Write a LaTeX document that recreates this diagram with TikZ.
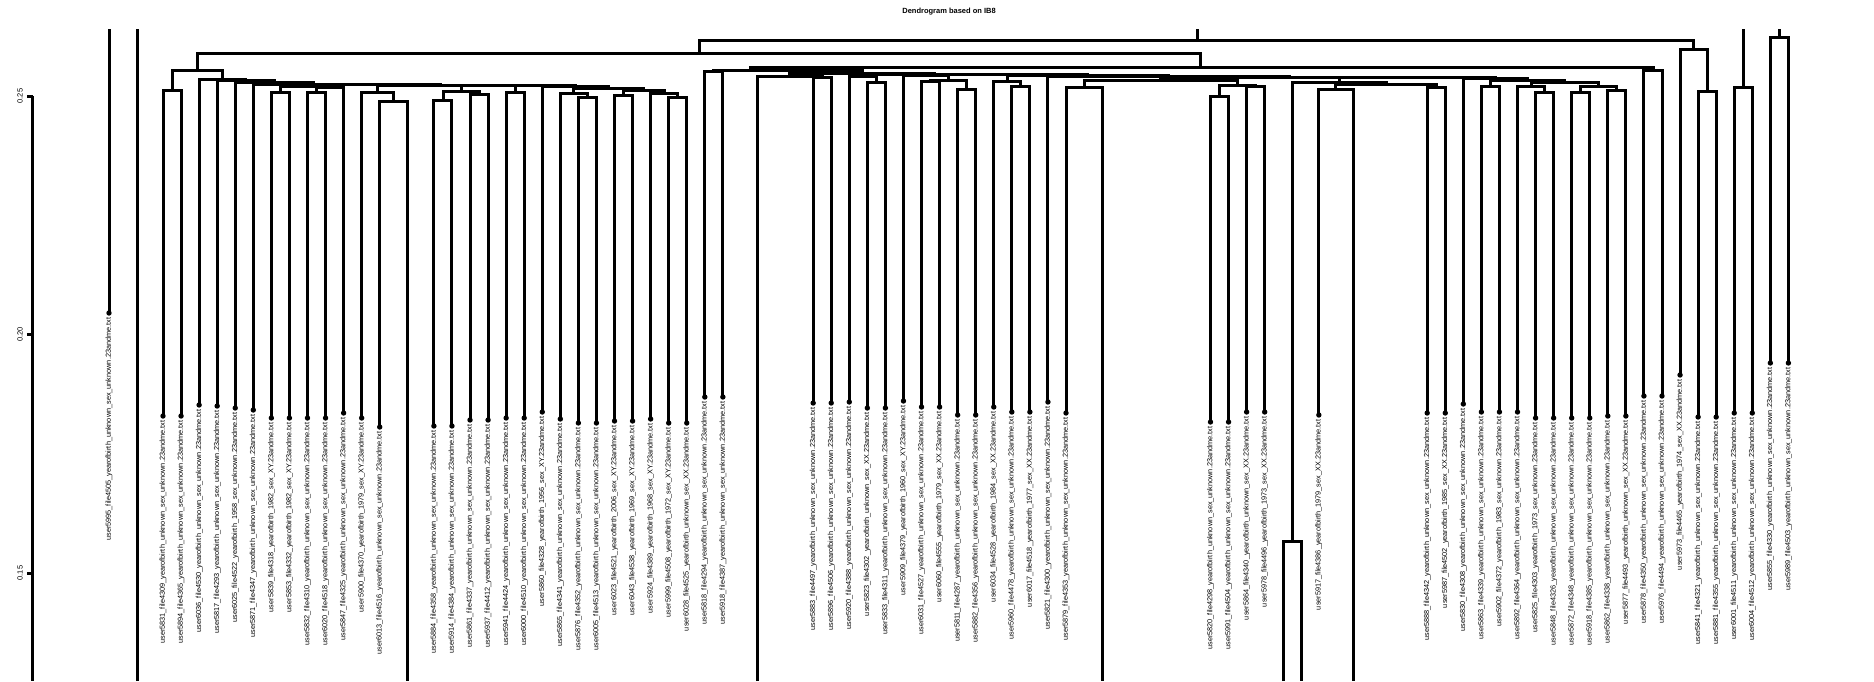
\documentclass[tikz,border=0pt]{standalone}
\usepackage{fontspec}
\setmainfont{Liberation Sans}
\usepackage{tikz}

% one bracket of the tree: left child, right child, new name, x, height
\newcommand{\merge}[5]{%
  \coordinate (#3) at (#4,-#5);
  \draw[branch] (#1) |- (#3) -| (#2);}

\begin{document}
\begin{tikzpicture}[x=1pt, y=1pt,
    branch/.style={draw=black, line width=3pt},
    axisline/.style={draw=black, line width=3pt},
    leafdot/.style={fill=black},
    leaflab/.style={rotate=90, anchor=east, inner sep=0pt, font=\fontsize{7.3}{8}\selectfont},
    ticklab/.style={rotate=90, inner sep=0pt, font=\fontsize{7.5}{8}\selectfont},
    titlelab/.style={inner sep=0pt, font=\bfseries\fontsize{7.5}{8}\selectfont}]

    \useasboundingbox (0,0) rectangle (1874,-681);

    \node[titlelab] (title) at (949,-12) {Dendrogram based on IB8};

    % axis
    \draw[axisline] (32.5,-96) -- (32.5,-681);
    \foreach \v/\yy/\n in {0.25/96/1, 0.20/334.5/2, 0.15/573/3} {
        \draw[axisline] (27,-\yy) -- (32.5,-\yy);
        \node[ticklab] (tick\n) at (20,-\yy) {\v};
    }

    % leaves
    \foreach \k/\dy/\name in {
        0/416/user5831\_file4309\_yearofbirth\_unknown\_sex\_unknown.23andme.txt,
        1/416/user5894\_file4365\_yearofbirth\_unknown\_sex\_unknown.23andme.txt,
        2/405/user6036\_file4530\_yearofbirth\_unknown\_sex\_unknown.23andme.txt,
        3/406/user5817\_file4293\_yearofbirth\_unknown\_sex\_unknown.23andme.txt,
        4/408/user6025\_file4522\_yearofbirth\_1958\_sex\_unknown.23andme.txt,
        5/410/user5871\_file4347\_yearofbirth\_unknown\_sex\_unknown.23andme.txt,
        6/418/user5839\_file4318\_yearofbirth\_1982\_sex\_XY.23andme.txt,
        7/418/user5853\_file4332\_yearofbirth\_1982\_sex\_XY.23andme.txt,
        8/418/user5832\_file4310\_yearofbirth\_unknown\_sex\_unknown.23andme.txt,
        9/418/user6020\_file4518\_yearofbirth\_unknown\_sex\_unknown.23andme.txt,
        10/413/user5847\_file4325\_yearofbirth\_unknown\_sex\_unknown.23andme.txt,
        11/418/user5900\_file4370\_yearofbirth\_1979\_sex\_XY.23andme.txt,
        12/427/user6013\_file4516\_yearofbirth\_unknown\_sex\_unknown.23andme.txt,
        15/426/user5884\_file4358\_yearofbirth\_unknown\_sex\_unknown.23andme.txt,
        16/426/user5914\_file4384\_yearofbirth\_unknown\_sex\_unknown.23andme.txt,
        17/420/user5861\_file4337\_yearofbirth\_unknown\_sex\_unknown.23andme.txt,
        18/420/user5937\_file4412\_yearofbirth\_unknown\_sex\_unknown.23andme.txt,
        19/418/user5941\_file4424\_yearofbirth\_unknown\_sex\_unknown.23andme.txt,
        20/418/user6000\_file4510\_yearofbirth\_unknown\_sex\_unknown.23andme.txt,
        21/412/user5860\_file4328\_yearofbirth\_1956\_sex\_XY.23andme.txt,
        22/419/user5865\_file4341\_yearofbirth\_unknown\_sex\_unknown.23andme.txt,
        23/423/user5876\_file4352\_yearofbirth\_unknown\_sex\_unknown.23andme.txt,
        24/423/user6005\_file4513\_yearofbirth\_unknown\_sex\_unknown.23andme.txt,
        25/421/user6023\_file4521\_yearofbirth\_2006\_sex\_XY.23andme.txt,
        26/421/user6043\_file4538\_yearofbirth\_1969\_sex\_XY.23andme.txt,
        27/419/user5924\_file4389\_yearofbirth\_1968\_sex\_XY.23andme.txt,
        28/423/user5999\_file4508\_yearofbirth\_1972\_sex\_XY.23andme.txt,
        29/423/user6028\_file4525\_yearofbirth\_unknown\_sex\_XX.23andme.txt,
        30/397/user5818\_file4294\_yearofbirth\_unknown\_sex\_unknown.23andme.txt,
        31/397/user5918\_file4387\_yearofbirth\_unknown\_sex\_unknown.23andme.txt,
        36/403/user5883\_file4497\_yearofbirth\_unknown\_sex\_unknown.23andme.txt,
        37/403/user5896\_file4506\_yearofbirth\_unknown\_sex\_unknown.23andme.txt,
        38/402/user5920\_file4388\_yearofbirth\_unknown\_sex\_unknown.23andme.txt,
        39/408/user5823\_file4302\_yearofbirth\_unknown\_sex\_XX.23andme.txt,
        40/408/user5833\_file4311\_yearofbirth\_unknown\_sex\_unknown.23andme.txt,
        41/401/user5909\_file4379\_yearofbirth\_1960\_sex\_XY.23andme.txt,
        42/407/user6031\_file4527\_yearofbirth\_unknown\_sex\_unknown.23andme.txt,
        43/407/user6060\_file4555\_yearofbirth\_1979\_sex\_XX.23andme.txt,
        44/415/user5811\_file4287\_yearofbirth\_unknown\_sex\_unknown.23andme.txt,
        45/415/user5882\_file4356\_yearofbirth\_unknown\_sex\_unknown.23andme.txt,
        46/407/user6034\_file4528\_yearofbirth\_1984\_sex\_XX.23andme.txt,
        47/412/user5960\_file4478\_yearofbirth\_unknown\_sex\_unknown.23andme.txt,
        48/412/user6017\_file4518\_yearofbirth\_1977\_sex\_XX.23andme.txt,
        49/402/user5821\_file4300\_yearofbirth\_unknown\_sex\_unknown.23andme.txt,
        50/413/user5879\_file4353\_yearofbirth\_unknown\_sex\_unknown.23andme.txt,
        58/422/user5820\_file4298\_yearofbirth\_unknown\_sex\_unknown.23andme.txt,
        59/422/user5991\_file4504\_yearofbirth\_unknown\_sex\_unknown.23andme.txt,
        60/412/user5864\_file4340\_yearofbirth\_unknown\_sex\_XX.23andme.txt,
        61/412/user5978\_file4496\_yearofbirth\_1973\_sex\_XX.23andme.txt,
        64/415/user5917\_file4386\_yearofbirth\_1979\_sex\_XX.23andme.txt,
        70/413/user5888\_file4342\_yearofbirth\_unknown\_sex\_unknown.23andme.txt,
        71/413/user5987\_file4502\_yearofbirth\_1985\_sex\_XX.23andme.txt,
        72/404/user5830\_file4308\_yearofbirth\_unknown\_sex\_unknown.23andme.txt,
        73/412/user5863\_file4339\_yearofbirth\_unknown\_sex\_unknown.23andme.txt,
        74/412/user5902\_file4372\_yearofbirth\_1983\_sex\_unknown.23andme.txt,
        75/412/user5892\_file4364\_yearofbirth\_unknown\_sex\_unknown.23andme.txt,
        76/418/user5825\_file4303\_yearofbirth\_1973\_sex\_unknown.23andme.txt,
        77/418/user5848\_file4326\_yearofbirth\_unknown\_sex\_unknown.23andme.txt,
        78/418/user5872\_file4348\_yearofbirth\_unknown\_sex\_unknown.23andme.txt,
        79/418/user5918\_file4385\_yearofbirth\_unknown\_sex\_unknown.23andme.txt,
        80/416/user5862\_file4338\_yearofbirth\_unknown\_sex\_unknown.23andme.txt,
        81/416/user5877\_file4493\_yearofbirth\_unknown\_sex\_XX.23andme.txt,
        82/396/user5878\_file4350\_yearofbirth\_unknown\_sex\_unknown.23andme.txt,
        83/396/user5976\_file4494\_yearofbirth\_unknown\_sex\_unknown.23andme.txt,
        84/375/user5973\_file4465\_yearofbirth\_1974\_sex\_XX.23andme.txt,
        85/417/user5841\_file4321\_yearofbirth\_unknown\_sex\_unknown.23andme.txt,
        86/417/user5881\_file4355\_yearofbirth\_unknown\_sex\_unknown.23andme.txt,
        87/413/user6001\_file4511\_yearofbirth\_unknown\_sex\_unknown.23andme.txt,
        88/413/user6004\_file4512\_yearofbirth\_unknown\_sex\_unknown.23andme.txt,
        89/363/user5855\_file4330\_yearofbirth\_unknown\_sex\_unknown.23andme.txt,
        90/363/user5989\_file4503\_yearofbirth\_unknown\_sex\_unknown.23andme.txt} {
        \pgfmathsetmacro\lx{163+18.06*\k}
        \coordinate (k\k) at (\lx,-\dy);
        \node[leaflab] (lab\k) at ([yshift=-4.5pt]k\k) {\name};
    }
    \coordinate (u5995) at (109,-313);
    \node[leaflab] (lab5995) at ([yshift=-4.5pt]u5995) {user5995\_file4505\_yearofbirth\_unknown\_sex\_unknown.23andme.txt};

    % stems cut by the top and bottom edges
    \coordinate (u5995top) at (109,-29);
    \coordinate (h137top) at (137,-29);
    \coordinate (h137) at (137,-681);
    \coordinate (h407) at (407,-681);
    \coordinate (h757) at (757,-681);
    \coordinate (h1102) at (1102,-681);
    \coordinate (h1283) at (1283,-681);
    \coordinate (h1301) at (1301,-681);
    \coordinate (h1353) at (1353,-681);
    \draw[branch] (u5995) -- (u5995top);
    \draw[branch] (h137) -- (h137top);

    % left group
    \merge{k0}{k1}{m01}{172}{90}
    \merge{k6}{k7}{m67}{280.4}{92}
    \merge{k8}{k9}{m89}{316.5}{92}
    \merge{m89}{k10}{mb10}{330}{87}
    \merge{m67}{mb10}{ma}{305.2}{86}
    \merge{k12}{h407}{m12}{393.4}{101}
    \merge{k11}{m12}{m11}{377.5}{92}
    \merge{k15}{k16}{m1516}{443}{100}
    \merge{k17}{k18}{m1718}{479}{94}
    \merge{m1516}{m1718}{mde}{461}{91}
    \merge{k19}{k20}{m1920}{515}{92}
    \merge{k23}{k24}{m2324}{587.4}{97}
    \merge{k22}{m2324}{m22}{573.9}{93}
    \merge{k25}{k26}{m2526}{623.5}{95}
    \merge{k28}{k29}{m2829}{677.7}{97}
    \merge{k27}{m2829}{m27}{664.2}{93}
    \merge{m2526}{m27}{mhi}{643.8}{90}
    \merge{m22}{mhi}{mghi}{608.9}{88.5}
    \merge{k21}{mghi}{m21}{575.6}{86}
    \merge{m1920}{m21}{mq}{545.3}{85.6}
    \merge{mde}{mq}{mr}{503}{85.3}
    \merge{m11}{mr}{ms}{440}{85}
    \merge{ma}{ms}{mu}{372.6}{84.6}
    \merge{k5}{mu}{m5}{313}{84}
    \merge{k4}{m5}{m4}{274}{82}
    \merge{k3}{m4}{m3}{245.6}{80}
    \merge{k2}{m3}{m2}{222.4}{79}
    \merge{m01}{m2}{mL}{197.2}{70}

    % right group
    \merge{k30}{k31}{m3031}{713.8}{71}
    \merge{k36}{k37}{m3637}{822.2}{77}
    \merge{h757}{m3637}{mn1}{789.6}{76}
    \merge{k39}{k40}{m3940}{876.3}{82}
    \merge{k38}{m3940}{mn2}{862.8}{76}
    \merge{k42}{k43}{m4243}{930.5}{81}
    \merge{k44}{k45}{m4445}{966.7}{89}
    \merge{m4243}{m4445}{mn3}{948.6}{80}
    \merge{k41}{mn3}{m41}{926}{75}
    \merge{k47}{k48}{m4748}{1020.8}{86}
    \merge{k46}{m4748}{mn4}{1007.3}{81}
    \merge{k50}{h1102}{m50}{1084}{87}
    \merge{k58}{k59}{m5859}{1219.5}{96}
    \merge{k60}{k61}{m6061}{1255.6}{86}
    \merge{m5859}{m6061}{mN1}{1237.6}{85}
    \merge{m50}{mN1}{mN2}{1160.8}{80}
    \merge{h1283}{h1301}{mh1292}{1292}{541}
    \merge{k64}{h1353}{m64}{1335.9}{89}
    \merge{k70}{k71}{m7071}{1436.3}{87}
    \merge{m64}{m7071}{m64b}{1386.1}{84}
    \merge{mh1292}{m64b}{mN3}{1339}{82}
    \merge{k73}{k74}{m7374}{1490.4}{86}
    \merge{k76}{k77}{m7677}{1544.6}{92}
    \merge{k75}{m7677}{m75}{1531}{86}
    \merge{k78}{k79}{m7879}{1580.7}{92}
    \merge{k80}{k81}{m8081}{1616.8}{90}
    \merge{m7879}{m8081}{m7881}{1598.8}{86}
    \merge{m75}{m7881}{mX}{1564.9}{82}
    \merge{m7374}{mX}{mY}{1527.7}{80}
    \merge{k72}{mY}{mM}{1495.5}{78}
    \merge{mN3}{mM}{mP}{1417.3}{77.5}
    \merge{mN2}{mP}{mN4}{1289}{77}
    \merge{k49}{mN4}{m49}{1168.5}{76}
    \merge{mn4}{m49}{mn45}{1087.9}{75.5}
    \merge{m41}{mn45}{mZ}{1007}{74.5}
    \merge{mn2}{mZ}{mn2Z}{934.9}{74}
    \merge{mn1}{mn2Z}{mQ}{862.2}{73}
    \merge{m3031}{mQ}{mCL}{750}{70}
    \merge{k82}{k83}{m8283}{1653}{70}
    \merge{mCL}{m8283}{mC}{1200}{67}
    \merge{mL}{mC}{mB}{699}{53}
    \merge{k85}{k86}{m8586}{1707.1}{91}
    \merge{k84}{m8586}{mAR}{1693.6}{49}
    \merge{mB}{mAR}{mA}{1197}{40}
    \merge{k87}{k88}{m8788}{1743.2}{87}
    \merge{k89}{k90}{m8990}{1779.4}{37}
    \coordinate (topA) at (1197,-29);
    \coordinate (top8788) at (1743.2,-29);
    \coordinate (top8990) at (1779.4,-29);
    \draw[branch] (mA) -- (topA);
    \draw[branch] (m8788) -- (top8788);
    \draw[branch] (m8990) -- (top8990);

    % dots at the leaf ends
    \foreach \k in {0,...,12,15,16,...,31,36,37,...,50,58,59,60,61,64,70,71,...,90}
        \fill[leafdot] (k\k) circle (2.7pt);
    \fill[leafdot] (u5995) circle (2.7pt);
\end{tikzpicture}
\end{document}
